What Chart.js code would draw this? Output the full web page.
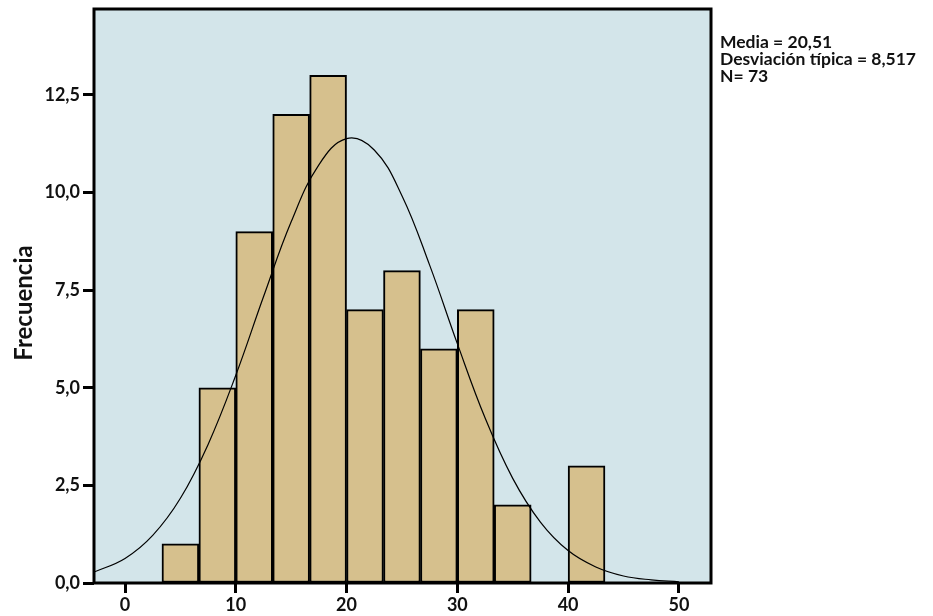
<!DOCTYPE html>
<html>
<head>
<meta charset="utf-8">
<script src="https://cdn.jsdelivr.net/npm/chart.js@4/dist/chart.umd.min.js"></script>
<style>
  html, body { margin: 0; padding: 0; background: #fff; }
  #wrap { width: 933px; height: 616px; }
</style>
</head>
<body>
<div id="wrap"><canvas id="grafico" width="933" height="616"></canvas></div>
<script>
// histograma: bordes de clase y frecuencias
const binEdges = [3.33, 6.67, 10, 13.33, 16.67, 20, 23.33, 26.67, 30, 33.33, 36.67, 40, 43.33];
const frecuencias = [1, 5, 9, 12, 13, 7, 8, 6, 7, 2, 0, 3];

// curva normal
const curvaX = [-2.8, 0, 2.5, 5, 7.5, 10, 12.5, 15, 17.5, 20, 22.5, 25, 27.5, 30, 32.5, 35, 37.5, 40, 42.5, 45, 47.5, 50];
const curvaY = [0.28, 0.63, 1.22, 2.17, 3.55, 5.32, 7.33, 9.25, 10.71, 11.38, 11.09, 9.92, 8.14, 6.13, 4.23, 2.68, 1.56, 0.83, 0.41, 0.18, 0.08, 0.03];

const xTicks = [0, 10, 20, 30, 40, 50];
const yTicks = [0, 2.5, 5, 7.5, 10, 12.5];
const tituloY = 'Frecuencia';
const resumen = ['Media = 20,51', 'Desviación típica = 8,517', 'N= 73'];

const barras = frecuencias.map((f, i) => ({ x: (binEdges[i] + binEdges[i + 1]) / 2, y: f }));
const curva = curvaX.map((x, i) => ({ x: x, y: curvaY[i] }));

const fondoYMarco = {
  id: 'fondoYMarco',
  beforeDatasetsDraw(chart) {
    const { ctx, chartArea: a } = chart;
    ctx.save();
    ctx.fillStyle = '#d3e5ea';
    ctx.fillRect(a.left, a.top, a.right - a.left, a.bottom - a.top);
    ctx.restore();
  },
  afterDatasetsDraw(chart) {
    const { ctx, chartArea: a } = chart;
    ctx.save();
    ctx.strokeStyle = '#000';
    ctx.lineWidth = 3;
    ctx.strokeRect(a.left, a.top, a.right - a.left, a.bottom - a.top);
    ctx.restore();
  },
  afterDraw(chart) {
    const ctx = chart.ctx;
    ctx.save();
    ctx.fillStyle = '#111';
    ctx.font = 'bold 17.5px Lato';
    ctx.textBaseline = 'alphabetic';
    resumen.forEach((t, i) => ctx.fillText(t, 720, 48 + i * 17));
    // titulo del eje y
    ctx.translate(32, 303);
    ctx.rotate(-Math.PI / 2);
    ctx.font = 'bold 24px Lato';
    ctx.textAlign = 'center';
    ctx.fillText(tituloY, 0, 0);
    ctx.restore();
  }
};

const ctx = document.getElementById('grafico');

new Chart(ctx, {
  data: {
    datasets: [{
      type: 'line',
      data: curva,
      borderColor: '#000',
      borderWidth: 1.2,
      pointRadius: 0,
      tension: 0.4,
      fill: false
    },
    {
      type: 'bar',
      data: barras,
      backgroundColor: '#d6c08d',
      borderColor: '#000',
      borderWidth: 2,
      borderSkipped: false,
      barPercentage: 1,
      categoryPercentage: 1
    }]
  },
  options: {
    responsive: false,
    animation: false,
    layout: { padding: { top: 9, right: 222, left: 0, bottom: 0 } },
    plugins: { legend: { display: false }, tooltip: { enabled: false } },
    scales: {
      x: {
        type: 'linear',
        min: -2.8,
        max: 52.9,
        offset: false,
        afterBuildTicks: s => { s.ticks = xTicks.map(v => ({ value: v })); },
        afterFit: s => { s.height = 33; s.paddingLeft = 0; s.paddingRight = 0; },
        border: { display: false },
        grid: { offset: false, drawOnChartArea: false, drawTicks: true, tickLength: 10, tickWidth: 3, tickColor: '#000' },
        ticks: { color: '#111', font: { family: 'Lato', size: 18, weight: 'bold' }, padding: 1, maxRotation: 0 }
      },
      y: {
        type: 'linear',
        min: 0,
        max: 14.7,
        afterBuildTicks: s => { s.ticks = yTicks.map(v => ({ value: v })); },
        afterFit: s => { s.width = 94; s.paddingTop = 0; s.paddingBottom = 0; },
        border: { display: false },
        grid: { drawOnChartArea: false, drawTicks: true, tickLength: 11, tickWidth: 3, tickColor: '#000' },
        ticks: {
          color: '#111',
          font: { family: 'Lato', size: 18, weight: 'bold' },
          padding: 3,
          callback: v => v.toFixed(1).replace('.', ',')
        }
      }
    }
  },
  plugins: [fondoYMarco]
});
</script>
</body>
</html>
